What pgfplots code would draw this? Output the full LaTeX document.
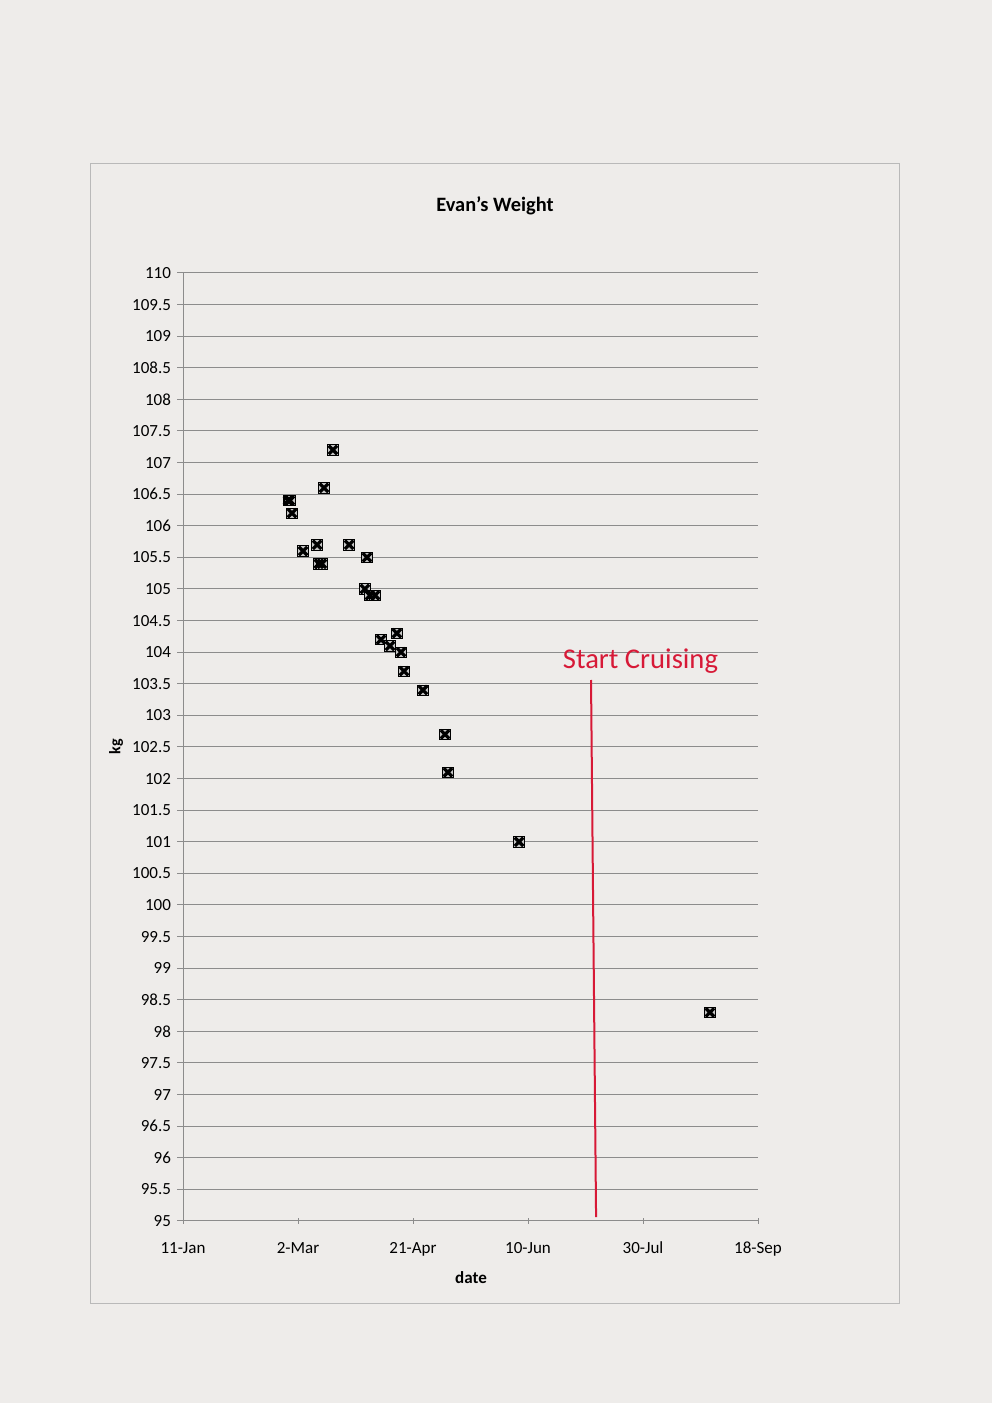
\documentclass[border=0pt]{standalone}
\usepackage{pgfplots}
\pgfplotsset{compat=1.18}
\usepackage{fontspec}
\setmainfont{Carlito}
\definecolor{bg}{RGB}{238,236,234}
\definecolor{gridc}{RGB}{140,140,140}
\definecolor{redc}{RGB}{215,25,55}
\begin{document}
\begin{tikzpicture}
\fill[bg] (0pt,0pt) rectangle (496pt,701.5pt);
\draw[gray!55, line width=0.5pt] (45pt,49.5pt) rectangle (449.5pt,619.5pt);
\node[font=\bfseries\fontsize{10.2}{12}\selectfont] at (247.5pt,598.5pt) {Evan's Weight};
\node[font=\bfseries\fontsize{8}{10}\selectfont, rotate=90] at (58pt,328pt) {kg};
\node[font=\bfseries\fontsize{8.5}{10}\selectfont] at (235.5pt,62.5pt) {date};
\begin{axis}[
  at={(91.5pt,91pt)}, anchor=south west,
  scale only axis, width=287.5pt, height=474pt,
  xmin=0, xmax=250, ymin=95, ymax=110,
  xtick={0,50,100,150,200,250},
  xticklabels={11-Jan,2-Mar,21-Apr,10-Jun,30-Jul,18-Sep},
  ytick={95,95.5,...,110.1},
  yticklabel style={/pgf/number format/fixed},
  /pgf/number format/assume math mode=true,
  ymajorgrids, major grid style={gridc, line width=0.5pt},
  axis x line*=bottom, axis y line*=left,
  axis line style={gridc, line width=0.5pt, -},
  tick style={gridc, line width=0.5pt},
  major tick length=3pt,
  xtick align=center, ytick align=outside,
  tick label style={font=\fontsize{8.5}{10}\selectfont, black},
  xticklabel style={yshift=-5.5pt},
  yticklabel style={xshift=0.5pt},
  clip=false,
]
\addplot[only marks, mark=square*, mark size=2.6pt, mark options={draw=none, fill=gray!45}] coordinates {
(45.7,106.4) (46.5,106.4) (47.4,106.2) (52.2,105.6) (58.3,105.7) (59.1,105.4) (60.4,105.4)
(61.3,106.6) (65.2,107.2) (72.2,105.7) (79.1,105.0) (80.0,105.5) (81.3,104.9) (83.5,104.9)
(86.1,104.2) (90.0,104.1) (93.0,104.3) (94.8,104.0) (96.1,103.7) (104.3,103.4)
(113.9,102.7) (115.2,102.1) (146.1,101.0) (229.1,98.3)
};
\addplot[only marks, mark=x, mark size=3pt, mark options={line width=1.6pt, black}] coordinates {
(45.7,106.4) (46.5,106.4) (47.4,106.2) (52.2,105.6) (58.3,105.7) (59.1,105.4) (60.4,105.4)
(61.3,106.6) (65.2,107.2) (72.2,105.7) (79.1,105.0) (80.0,105.5) (81.3,104.9) (83.5,104.9)
(86.1,104.2) (90.0,104.1) (93.0,104.3) (94.8,104.0) (96.1,103.7) (104.3,103.4)
(113.9,102.7) (115.2,102.1) (146.1,101.0) (229.1,98.3)
};
\addplot[redc, line width=1pt] coordinates {(177.4,103.56) (179.6,95.06)};
\node[text=redc, font=\fontsize{14.3}{16}\selectfont] at (axis cs:198.9,103.86) {Start Cruising};
\end{axis}
\end{tikzpicture}
\end{document}
